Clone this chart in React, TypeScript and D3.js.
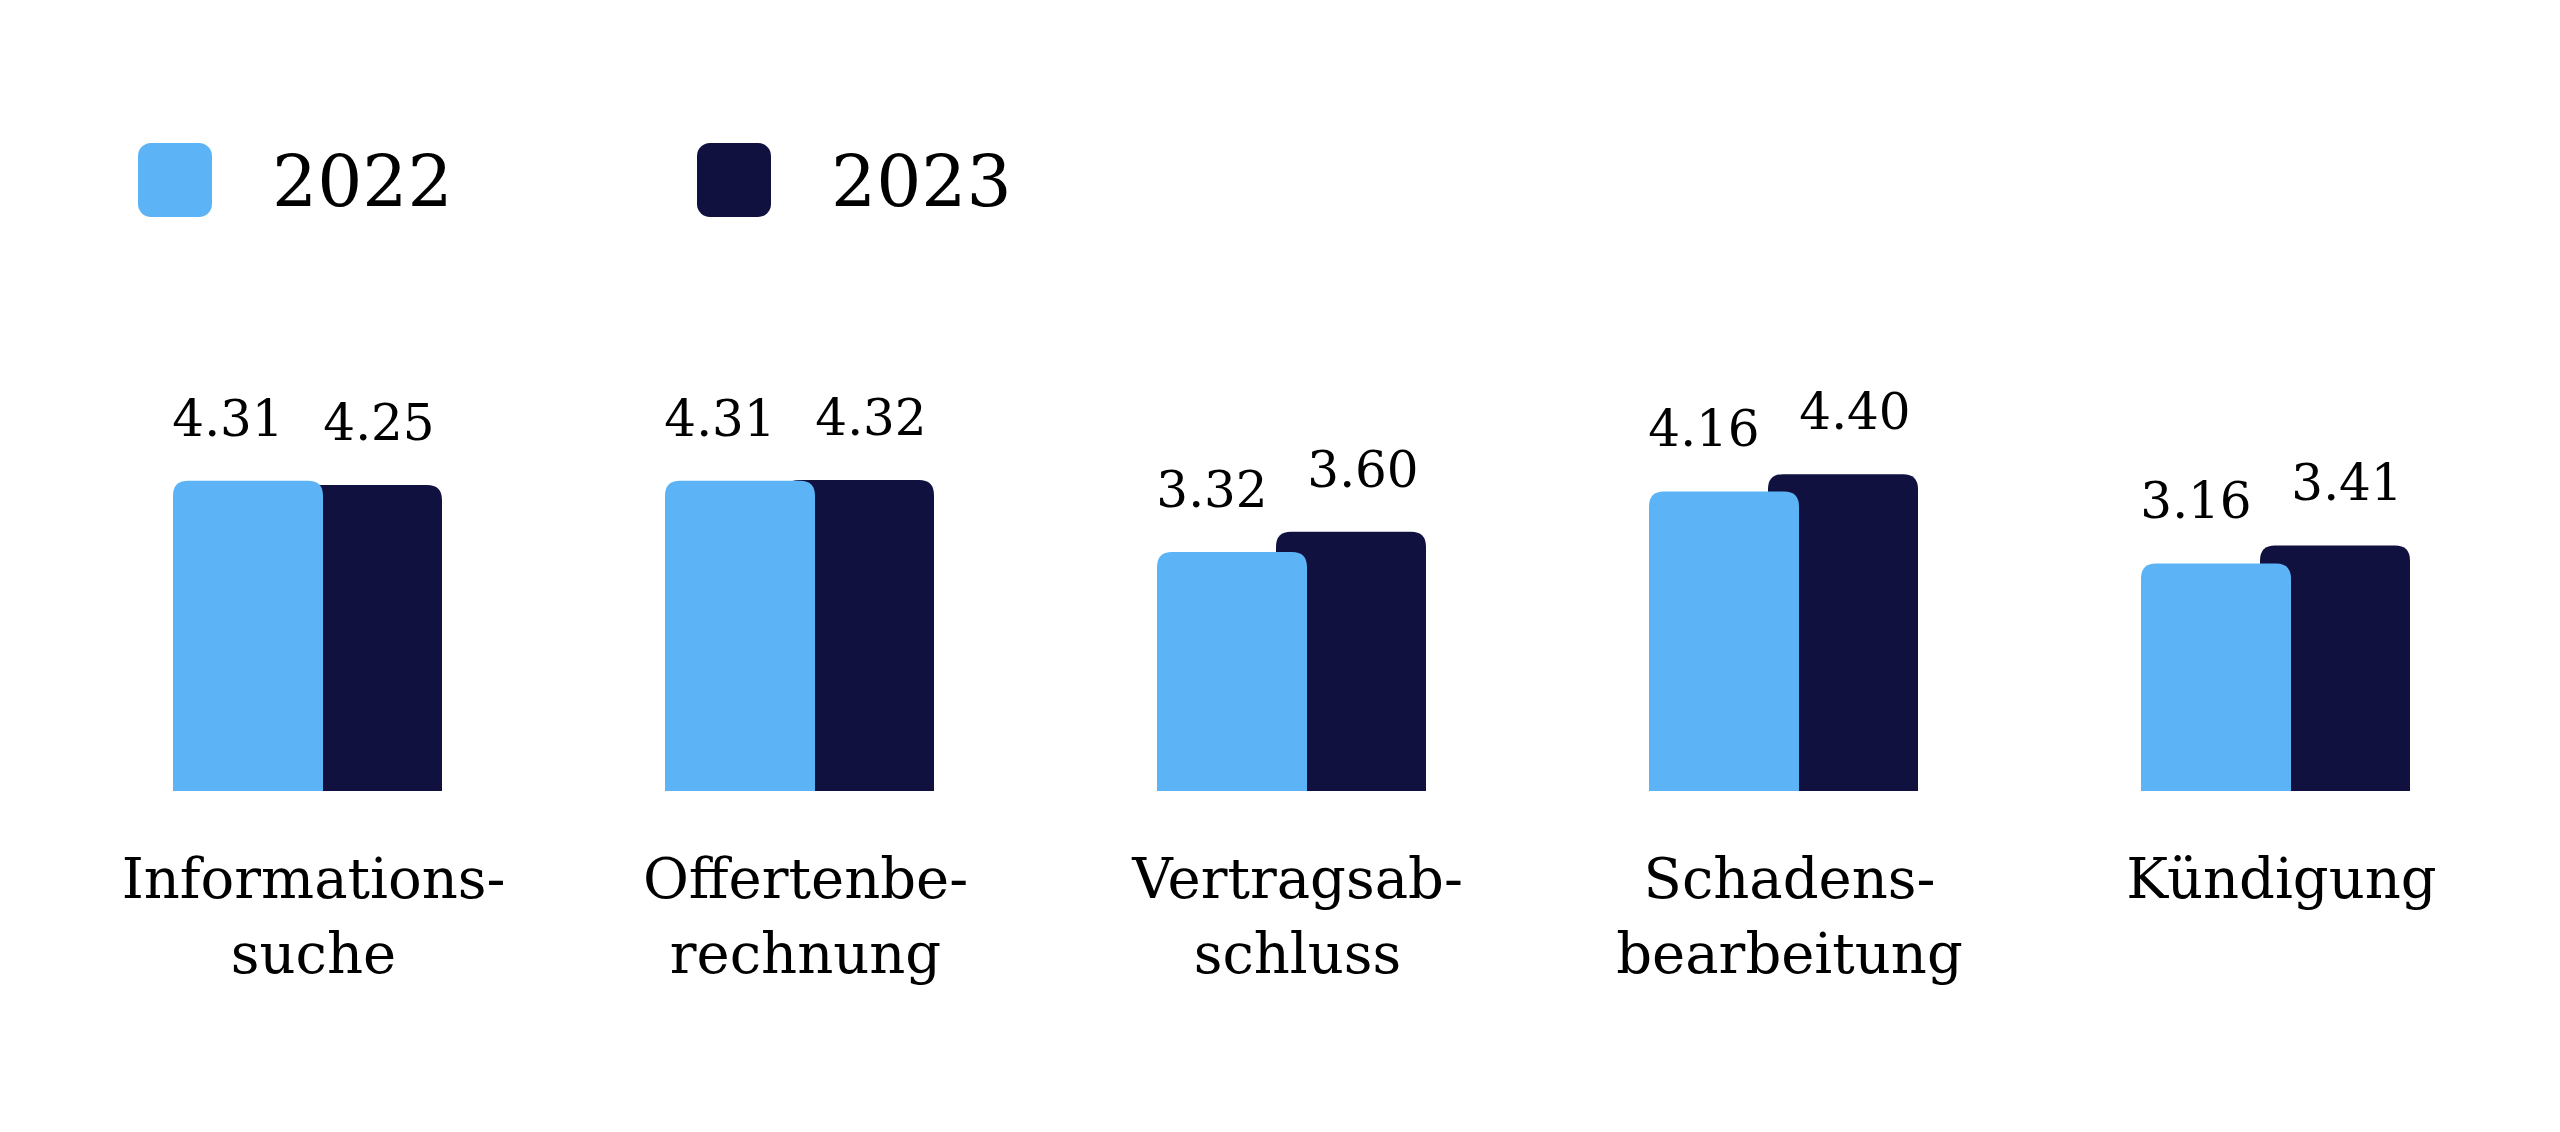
import React from 'react';
import * as d3 from 'd3';

// categories (two-line labels) and values per year
const categories = ['Informationssuche', 'Offertenberechnung', 'Vertragsabschluss', 'Schadensbearbeitung', 'Kündigung'];
const categoryLines = [
  ['Informations-', 'suche'],
  ['Offertenbe-', 'rechnung'],
  ['Vertragsab-', 'schluss'],
  ['Schadens-', 'bearbeitung'],
  ['Kündigung'],
];
const years = ['2022', '2023'];
const values2022 = [4.31, 4.31, 3.32, 4.16, 3.16];
const values2023 = [4.25, 4.32, 3.60, 4.40, 3.41];
const colors = ['#5cb3f5', '#111140'];

const FONT = '"DejaVu Serif", serif';

// rounded top corners, flat bottom
const topRounded = (x: number, y: number, w: number, h: number, r: number) =>
  `M${x},${y + h}V${y + r}Q${x},${y} ${x + r},${y}H${x + w - r}Q${x + w},${y} ${x + w},${y + r}V${y + h}Z`;

export default function App() {
  const width = 2560;
  const height = 1132;
  const baseline = 791;
  const barW = 150;

  const x = d3.scaleBand().domain(categories).range([61.5, 2521.5]).padding(0);
  const sx = d3.scalePoint().domain(years).range([-59.5, 59.5]);
  const y = d3.scaleLinear().domain([0, 5]).range([baseline, baseline - 360]);

  const series = [values2022, values2023];
  const labelShift = [-20, 12];

  return (
    <svg width={width} height={height} style={{ position: 'absolute', left: 0, top: 0, background: '#fff' }}>
      {/* legend */}
      {years.map((yr, i) => (
        <g key={yr} transform={`translate(${138 + i * 559},143)`}>
          <rect width={74} height={74} rx={13} fill={colors[i]} />
          <text x={134} y={63} fontFamily={FONT} fontSize={71} fill="#000">{yr}</text>
        </g>
      ))}

      {/* bars: 2023 drawn first so 2022 sits on top */}
      {[1, 0].map(si =>
        categories.map((c, i) => {
          const cx = (x(c) as number) + x.bandwidth() / 2 + (sx(years[si]) as number);
          const v = series[si][i];
          return (
            <path
              key={`${si}-${c}`}
              d={topRounded(cx - barW / 2, y(v), barW, baseline - y(v), 15)}
              fill={colors[si]}
            />
          );
        })
      )}

      {/* value labels */}
      {[0, 1].map(si =>
        categories.map((c, i) => {
          const cx = (x(c) as number) + x.bandwidth() / 2 + (sx(years[si]) as number);
          const v = series[si][i];
          return (
            <text
              key={`l${si}-${c}`}
              x={cx + labelShift[si]}
              y={y(v) - 45}
              textAnchor="middle"
              fontFamily={FONT}
              fontSize={50}
              fill="#000"
            >
              {v.toFixed(2)}
            </text>
          );
        })
      )}

      {/* category labels */}
      {categories.map((c, i) => (
        <text
          key={`c-${c}`}
          x={(x(c) as number) + x.bandwidth() / 2 + 6}
          y={898}
          textAnchor="middle"
          fontFamily={FONT}
          fontSize={56}
          fill="#000"
        >
          {categoryLines[i].map((line, j) => (
            <tspan key={j} x={(x(c) as number) + x.bandwidth() / 2 + 6} dy={j === 0 ? 0 : 75}>
              {line}
            </tspan>
          ))}
        </text>
      ))}
    </svg>
  );
}
